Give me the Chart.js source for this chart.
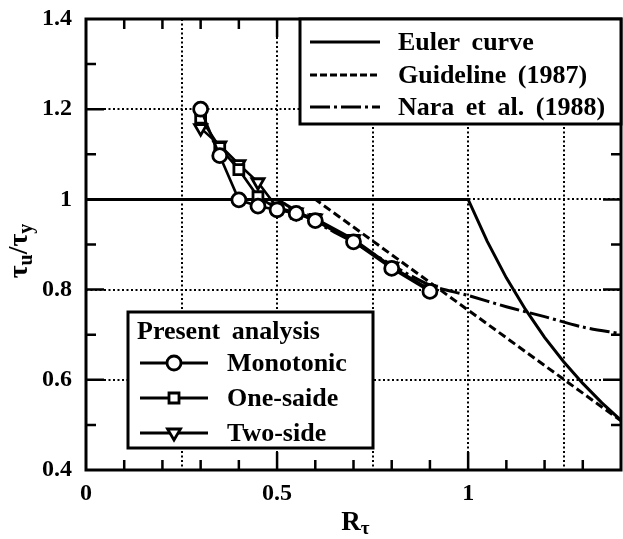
<!DOCTYPE html>
<html><head><meta charset="utf-8">
<script src="https://cdn.jsdelivr.net/npm/chart.js@4"></script>
<style>html,body{margin:0;padding:0;background:#fff;overflow:hidden;}</style>
</head><body>
<canvas id="c" width="623" height="539"></canvas>
<script>
// ---- data ----
const monoX = [0.3, 0.35, 0.4, 0.45, 0.5, 0.55, 0.6, 0.7, 0.8, 0.9];
const monoY = [1.2, 1.097, 0.999, 0.985, 0.977, 0.969, 0.953, 0.906, 0.847, 0.796];
const oneX  = [0.3, 0.35, 0.4, 0.45, 0.5, 0.55, 0.6, 0.7, 0.8, 0.9];
const oneY  = [1.18, 1.115, 1.066, 1.006, 0.979, 0.969, 0.956, 0.909, 0.849, 0.798];
const twoX  = [0.3, 0.35, 0.4, 0.45, 0.5, 0.55, 0.6, 0.7, 0.8, 0.9];
const twoY  = [1.158, 1.12, 1.078, 1.038, 0.982, 0.971, 0.958, 0.912, 0.851, 0.8];
const eulerX = [0, 1, 1.05, 1.1, 1.15, 1.2, 1.25, 1.3, 1.35, 1.4];
const eulerY = [1, 1, 0.907, 0.826, 0.756, 0.694, 0.64, 0.592, 0.549, 0.51];
const guideX = [0, 0.6, 1.4];
const guideY = [1, 1, 0.509];
const naraX = [0.5, 0.6, 0.7, 0.8, 0.9, 1.0, 1.1, 1.2, 1.3, 1.4];
const naraY = [1.0, 0.95, 0.905, 0.855, 0.81, 0.787, 0.762, 0.74, 0.717, 0.702];
const xTicks = [0, 0.5, 1];
const xTickLabels = ['0', '0.5', '1'];
const yTicks = [0.4, 0.6, 0.8, 1, 1.2, 1.4];
const yTickLabels = ['0.4', '0.6', '0.8', '1', '1.2', '1.4'];
const gridX = [0.25, 0.5, 0.75, 1, 1.25];
const gridY = [0.6, 0.8, 1, 1.2];
const xMinor = [0.1, 0.2, 0.3, 0.4, 0.6, 0.7, 0.8, 0.9, 1.1, 1.2, 1.3];
const xMajor = [0.5, 1];
const yMinor = [0.5, 0.7, 0.9, 1.1, 1.3];
const yMajor = [0.6, 0.8, 1, 1.2];
const lineLegend = ['Euler curve', 'Guideline (1987)', 'Nara et al. (1988)'];
const markLegendTitle = 'Present analysis';
const markLegend = ['Monotonic', 'One-saide', 'Two-side'];

const FONT = '"Liberation Serif","Times New Roman",serif';
const pts = (xs, ys) => xs.map((v, i) => ({x: v, y: ys[i]}));

function drawMarker(ctx, style, x, y) {
  ctx.save();
  ctx.setLineDash([]);
  ctx.fillStyle = '#fff'; ctx.strokeStyle = '#000'; ctx.lineWidth = 2.8;
  ctx.beginPath();
  if (style === 'circle') { ctx.arc(x, y, 7, 0, Math.PI * 2); }
  else if (style === 'rect') { ctx.rect(x - 5, y - 5, 10, 10); }
  else { ctx.moveTo(x - 6.5, y - 4); ctx.lineTo(x + 6.5, y - 4); ctx.lineTo(x, y + 7); ctx.closePath(); }
  ctx.fill(); ctx.stroke();
  ctx.restore();
}

const decor = {
  id: 'decor',
  beforeDatasetsDraw(chart) {
    const {ctx, chartArea: a, scales: {x, y}} = chart;
    ctx.save();
    ctx.strokeStyle = '#000'; ctx.lineWidth = 2; ctx.setLineDash([2, 2.5]);
    gridX.forEach(v => { const p = Math.round(x.getPixelForValue(v)); ctx.beginPath(); ctx.moveTo(p, a.top); ctx.lineTo(p, a.bottom); ctx.stroke(); });
    gridY.forEach(v => { const p = Math.round(y.getPixelForValue(v)); ctx.beginPath(); ctx.moveTo(a.left, p); ctx.lineTo(a.right, p); ctx.stroke(); });
    ctx.restore();
  },
  afterDatasetsDraw(chart) {
    const {ctx, chartArea: a, scales: {x, y}} = chart;
    ctx.save();
    ctx.strokeStyle = '#000'; ctx.setLineDash([]);
    // ticks
    ctx.lineWidth = 2.5;
    const tx = (v, len) => { const p = x.getPixelForValue(v); ctx.beginPath(); ctx.moveTo(p, a.bottom); ctx.lineTo(p, a.bottom - len); ctx.moveTo(p, a.top); ctx.lineTo(p, a.top + len); ctx.stroke(); };
    const ty = (v, len) => { const p = y.getPixelForValue(v); ctx.beginPath(); ctx.moveTo(a.left, p); ctx.lineTo(a.left + len, p); ctx.moveTo(a.right, p); ctx.lineTo(a.right - len, p); ctx.stroke(); };
    xMinor.forEach(v => tx(v, 10)); xMajor.forEach(v => tx(v, 18));
    yMinor.forEach(v => ty(v, 10)); yMajor.forEach(v => ty(v, 18));
    // frame
    ctx.lineWidth = 3;
    ctx.strokeRect(a.left, a.top, a.right - a.left, a.bottom - a.top);

    // top-right legend
    const L1 = {l: 300, t: a.top, r: a.right, b: 124};
    ctx.fillStyle = '#fff'; ctx.fillRect(L1.l, L1.t, L1.r - L1.l, L1.b - L1.t);
    ctx.lineWidth = 3; ctx.strokeRect(L1.l, L1.t, L1.r - L1.l, L1.b - L1.t);
    const dashes = [[], [7, 3], [20, 4, 3, 4]];
    const rows1 = [42, 75, 107];
    ctx.font = 'bold 26px ' + FONT; ctx.fillStyle = '#000'; ctx.textBaseline = 'middle'; ctx.textAlign = 'left';
    try { ctx.wordSpacing = '5px'; } catch (e) {}
    lineLegend.forEach((t, i) => {
      ctx.setLineDash(dashes[i]); ctx.lineWidth = 3;
      ctx.beginPath(); ctx.moveTo(310, rows1[i]); ctx.lineTo(380, rows1[i]); ctx.stroke();
      ctx.setLineDash([]);
      ctx.fillText(t, 398, rows1[i] + 1);
    });

    // bottom-left legend
    const L2 = {l: 128, t: 312, r: 373, b: 448};
    ctx.fillStyle = '#fff'; ctx.fillRect(L2.l, L2.t, L2.r - L2.l, L2.b - L2.t);
    ctx.lineWidth = 3; ctx.strokeRect(L2.l, L2.t, L2.r - L2.l, L2.b - L2.t);
    ctx.fillStyle = '#000';
    ctx.fillText(markLegendTitle, 137, 332);
    const rows2 = [363, 398, 433];
    const styles = ['circle', 'rect', 'triangle'];
    markLegend.forEach((t, i) => {
      ctx.lineWidth = 3;
      ctx.beginPath(); ctx.moveTo(140, rows2[i]); ctx.lineTo(208, rows2[i]); ctx.stroke();
      drawMarker(ctx, styles[i], 174, rows2[i]);
      ctx.fillStyle = '#000';
      ctx.fillText(t, 227, rows2[i] + 1);
    });
    try { ctx.wordSpacing = '0px'; } catch (e) {}

    // axis titles with subscripts
    ctx.textBaseline = 'alphabetic'; ctx.textAlign = 'left';
    const segsX = [['R', 'bold 27px ', 0], ['\u03c4', 'bold 19px ', 4]];
    let w = 0; segsX.forEach(s => { ctx.font = s[1] + FONT; w += ctx.measureText(s[0]).width; });
    let cx = (a.left + a.right) / 2 + 2 - w / 2;
    segsX.forEach(s => { ctx.font = s[1] + FONT; ctx.fillText(s[0], cx, 530 + s[2]); cx += ctx.measureText(s[0]).width; });

    ctx.save();
    ctx.translate(27, 251);
    ctx.rotate(-Math.PI / 2);
    const segsY = [['\u03c4', 'bold 28px ', 0], ['u', 'bold 20px ', 5], ['/', 'bold 28px ', 0], ['\u03c4', 'bold 28px ', 0], ['y', 'bold 20px ', 5]];
    w = 0; segsY.forEach(s => { ctx.font = s[1] + FONT; w += ctx.measureText(s[0]).width; });
    cx = -w / 2;
    segsY.forEach(s => { ctx.font = s[1] + FONT; ctx.fillText(s[0], cx, s[2]); cx += ctx.measureText(s[0]).width; });
    ctx.restore();

    ctx.restore();
  }
};

const markerDS = (label, xs, ys, style, r, rot) => ({
  label, data: pts(xs, ys), borderColor: '#000', borderWidth: 2.6,
  pointStyle: style, pointRadius: r, pointBorderWidth: 2.8, pointRotation: rot,
  pointBackgroundColor: '#fff', pointBorderColor: '#000', showLine: true, tension: 0
});

new Chart(document.getElementById('c'), {
  type: 'line',
  data: {
    datasets: [
      markerDS('Monotonic', monoX, monoY, 'circle', 7, 0),
      markerDS('One-saide', oneX, oneY, 'rect', 7, 0),
      markerDS('Two-side', twoX, twoY, 'triangle', 7, 180),
      {label: 'Euler curve', data: pts(eulerX, eulerY), borderColor: '#000', borderWidth: 3, pointRadius: 0, tension: 0},
      {label: 'Guideline (1987)', data: pts(guideX, guideY), borderColor: '#000', borderWidth: 3, borderDash: [8, 4], pointRadius: 0, tension: 0},
      {label: 'Nara et al. (1988)', data: pts(naraX, naraY), borderColor: '#000', borderWidth: 3, borderDash: [20, 4, 3, 4], pointRadius: 0, tension: 0.3}
    ]
  },
  options: {
    responsive: false, animation: false, devicePixelRatio: 1,
    layout: {autoPadding: false, padding: {left: 0, top: 19, right: 2, bottom: 0}},
    plugins: {legend: {display: false}, tooltip: {enabled: false}},
    scales: {
      x: {
        type: 'linear', min: 0, max: 1.4,
        grid: {display: false, drawTicks: false}, border: {display: false},
        afterBuildTicks: s => { s.ticks = xTicks.map(v => ({value: v})); },
        afterFit: s => { s.height = 69; s.paddingLeft = 0; s.paddingRight = 0; },
        ticks: {color: '#000', padding: 9, maxRotation: 0, font: {family: FONT, size: 24, weight: 'bold'},
          callback: (v) => xTickLabels[xTicks.indexOf(v)] }
      },
      y: {
        type: 'linear', min: 0.4, max: 1.4,
        grid: {display: false, drawTicks: false}, border: {display: false},
        afterBuildTicks: s => { s.ticks = yTicks.map(v => ({value: v})); },
        afterFit: s => { s.width = 86; s.paddingTop = 0; s.paddingBottom = 0; },
        ticks: {color: '#000', padding: 14, font: {family: FONT, size: 24, weight: 'bold'},
          callback: (v) => yTickLabels[yTicks.findIndex(t => Math.abs(t - v) < 1e-9)] }
      }
    }
  },
  plugins: [decor]
});
</script>
</body></html>
